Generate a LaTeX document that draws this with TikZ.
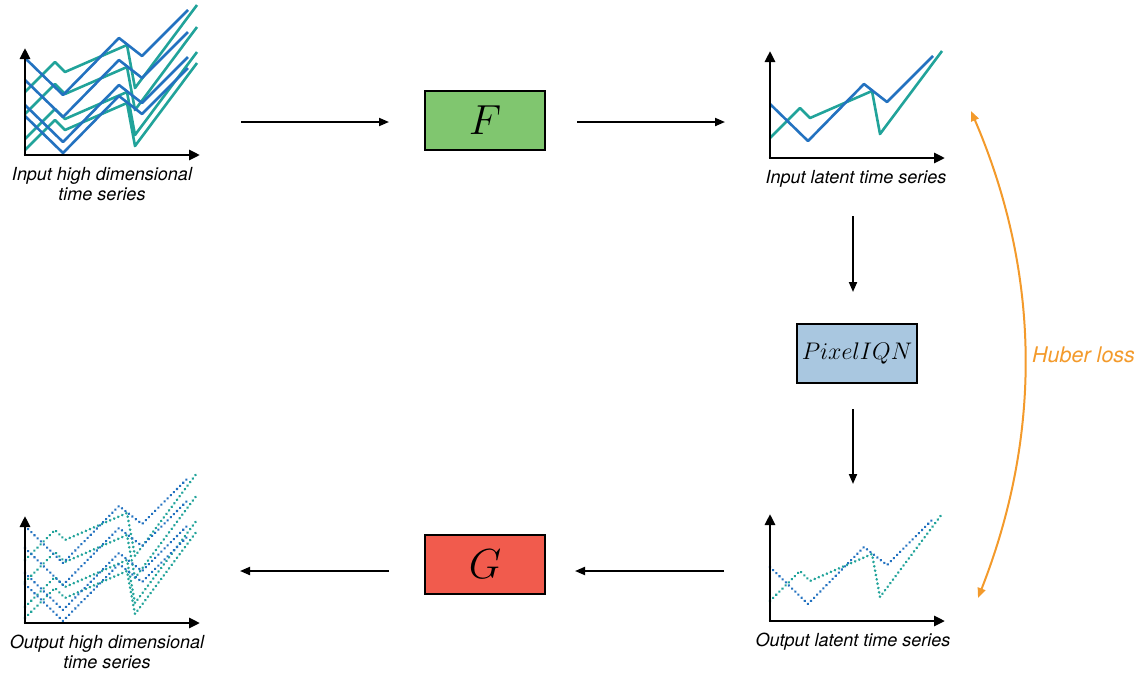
\RequirePackage{fix-cm}
\documentclass[tikz,border=0pt]{standalone}
\usepackage{fontspec}
\newfontfamily\helv{TeX Gyre Heros}
\usetikzlibrary{arrows.meta}
\definecolor{sblue}{HTML}{2372C0}
\definecolor{steal}{HTML}{21A39A}
\definecolor{fgreen}{HTML}{80C66F}
\definecolor{gred}{HTML}{F15B4D}
\definecolor{pblue}{HTML}{A9C7E0}
\definecolor{huber}{HTML}{F39A2B}
\tikzset{
  axisline/.style={line width=2.8pt,-{Triangle[length=11pt,width=10pt]}},
  ser/.style={line width=2.6pt,line join=round},
  dotser/.style={line width=2.9pt,line cap=round,dash pattern=on 0.01pt off 4.4pt},
  flow/.style={line width=1.9pt,-{Triangle[length=10pt,width=8pt]}},
  box/.style={draw=black,line width=2.4pt,minimum width=120pt,minimum height=59pt,inner sep=0pt},
  caplabel/.style={font=\helv\itshape\fontsize{18}{20}\selectfont,align=center,inner sep=0pt,anchor=north},
}
\newcommand\blueline[1]{\draw[ser,sblue,#1] (0,-54) -- (38,-17) -- (94,-74) -- (117,-56) -- (163,-102);}
\newcommand\tealline[1]{\draw[ser,steal,#1] (0,-20) -- (30,-50) -- (40,-40) -- (102,-67) -- (110,-24) -- (172,-107);}
\newcommand\plotaxes{\draw[axisline] (0,0) -- (0,-107); \draw[axisline] (-1.4,0) -- (175,0);}
\begin{document}
\begin{tikzpicture}[x=1pt,y=-1pt]
\useasboundingbox (0,0) rectangle (1146,675);
% input high dimensional
\begin{scope}[shift={(25,155)}]
  \foreach \o in {-43,-21,4,15} {\tealline{shift={(0,\o)}}}
  \foreach \o in {-43,-21,4,15} {\blueline{shift={(0,\o)}}}
  \plotaxes
\end{scope}
\node[caplabel] (l1) at (102,167) {Input high dimensional\\time series};
% input latent
\begin{scope}[shift={(770,158)}]
  \tealline{}
  \blueline{}
  \plotaxes
\end{scope}
\node[caplabel] (l2) at (856,170) {Input latent time series};
% output latent
\begin{scope}[shift={(770,621)}]
  \tealline{dotser}
  \blueline{dotser}
  \plotaxes
\end{scope}
\node[caplabel] (l3) at (853,633) {Output latent time series};
% output high dimensional
\begin{scope}[shift={(25,623)}]
  \foreach \o in {-43,-21,4,15} {\tealline{dotser,shift={(0,\o)}}}
  \foreach \o in {-43,-21,4,15} {\blueline{dotser,shift={(0,\o)}}}
  \plotaxes
\end{scope}
\node[caplabel] (l4) at (107,635) {Output high dimensional\\time series};
% boxes
\node[box,fill=fgreen,font=\fontsize{42}{42}\selectfont] (F) at (485,120.5) {$F$};
\node[box,fill=gred,font=\fontsize{42}{42}\selectfont] (G) at (485,564.5) {$G$};
\node[box,fill=pblue,font=\fontsize{24}{24}\selectfont] (P) at (857,353.5) {$PixelIQN$};
% arrow ends
\coordinate (a1) at (241,122);
\coordinate (a2) at (389,122);
\coordinate (a3) at (577,122);
\coordinate (a4) at (725,122);
\coordinate (v1) at (853,216);
\coordinate (v2) at (853,292);
\coordinate (v3) at (853,409);
\coordinate (v4) at (853,484);
\coordinate (b1) at (724,571);
\coordinate (b2) at (575,571);
\coordinate (b3) at (389,571);
\coordinate (b4) at (240,571);
\draw[flow] (a1) -- (a2);
\draw[flow] (a3) -- (a4);
\draw[flow] (v1) -- (v2);
\draw[flow] (v3) -- (v4);
\draw[flow] (b1) -- (b2);
\draw[flow] (b3) -- (b4);
% huber loss
\coordinate (h1) at (971,111);
\coordinate (h2) at (978,598);
\draw[huber,line width=2pt,{Triangle[length=10pt,width=8pt]}-{Triangle[length=10pt,width=8pt]}]
  (h1) .. controls (1041,274) and (1042,435) .. (h2);
\node[font=\helv\itshape\fontsize{21.5}{24}\selectfont,text=huber,anchor=west,inner sep=0pt] (hl) at (1032,355) {Huber loss};
\end{tikzpicture}
\end{document}
